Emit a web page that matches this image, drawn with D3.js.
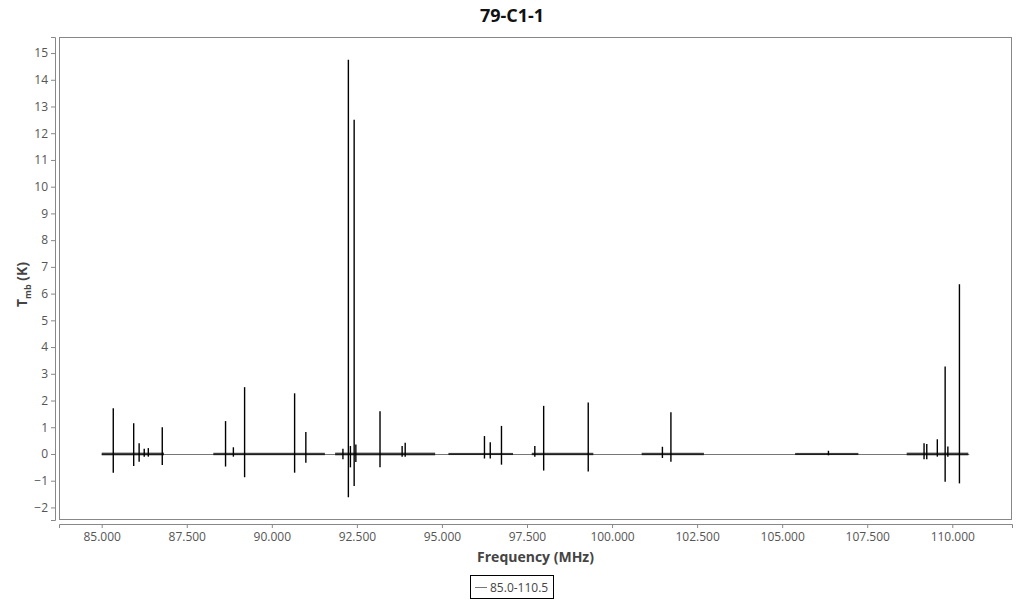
<!DOCTYPE html>
<html>
<head>
<meta charset="utf-8">
<script src="https://cdn.jsdelivr.net/npm/d3@7"></script>
<style>
  body { margin: 0; background: #fff; font-family: "Open Sans", sans-serif; }
</style>
</head>
<body>
<div id="chart"></div>
<script>
// observed frequency windows (MHz)
var segStart = [85.0, 88.28, 91.86, 95.19, 97.64, 100.87, 105.38, 108.66];
var segEnd   = [86.83, 91.56, 94.80, 97.09, 99.45, 102.70, 107.24, 110.47];
var segNoise = [0.05, 0.045, 0.05, 0.04, 0.045, 0.045, 0.04, 0.05];

// spectral lines: frequency, peak, trough (K)
var lineFreq = [85.34, 85.94, 86.10, 86.25, 86.37, 86.78, 88.64, 88.87, 89.20, 90.67,
                91.00, 92.09, 92.25, 92.31, 92.42, 92.47, 93.18, 93.83, 93.92, 96.25,
                96.42, 96.75, 97.73, 97.99, 99.30, 101.48, 101.73, 106.36, 109.17, 109.25,
                109.56, 109.79, 109.87, 110.21];
var lineMax  = [1.71, 1.15, 0.40, 0.20, 0.22, 1.00, 1.23, 0.25, 2.50, 2.27,
                0.82, 0.20, 14.75, 0.30, 12.50, 0.35, 1.60, 0.30, 0.42, 0.67,
                0.44, 1.05, 0.30, 1.80, 1.93, 0.27, 1.56, 0.12, 0.40, 0.37,
                0.55, 3.27, 0.28, 6.35];
var lineMin  = [-0.70, -0.45, -0.29, -0.10, -0.10, -0.41, -0.47, -0.10, -0.87, -0.70,
                -0.33, -0.20, -1.62, -0.50, -1.20, -0.30, -0.50, -0.10, -0.10, -0.17,
                -0.17, -0.40, -0.10, -0.62, -0.66, -0.15, -0.29, -0.05, -0.20, -0.20,
                -0.10, -1.04, -0.10, -1.10];

var xTicks = [85, 87.5, 90, 92.5, 95, 97.5, 100, 102.5, 105, 107.5, 110];
var yTicks = [-2, -1, 0, 1, 2, 3, 4, 5, 6, 7, 8, 9, 10, 11, 12, 13, 14, 15];

var width = 1024, height = 600;
var plot = { left: 59, right: 1012, top: 37, bottom: 520 };

var svg = d3.select("#chart").append("svg")
  .attr("width", width).attr("height", height);

var x = d3.scaleLinear().domain([83.745, 111.755]).range([plot.left, plot.right]);
var y = d3.scaleLinear().domain([-2.47, 15.6]).range([plot.bottom, plot.top]);

// title
svg.append("text")
  .attr("x", 512).attr("y", 22)
  .attr("text-anchor", "middle")
  .style("font-size", "18px").style("font-weight", "bold").style("fill", "#111")
  .text("79-C1-1");

// plot frame
svg.append("rect")
  .attr("x", plot.left + 0.5).attr("y", plot.top + 0.5)
  .attr("width", plot.right - plot.left - 1).attr("height", plot.bottom - plot.top - 1)
  .attr("fill", "none").attr("stroke", "#888");

svg.append("clipPath").attr("id", "clip").append("rect")
  .attr("x", plot.left).attr("y", plot.top)
  .attr("width", plot.right - plot.left).attr("height", plot.bottom - plot.top);

var g = svg.append("g").attr("clip-path", "url(#clip)");

// baseline of the series joining windows
g.append("line")
  .attr("x1", x(85.0)).attr("x2", x(110.5))
  .attr("y1", Math.round(y(0)) + 0.5).attr("y2", Math.round(y(0)) + 0.5)
  .attr("stroke", "#777").attr("stroke-width", 1);

// noise in each window
g.selectAll("rect.noise")
  .data(segStart.map(function(s, i) { return { s: s, e: segEnd[i], n: segNoise[i] }; }))
  .enter().append("rect")
  .attr("class", "noise")
  .attr("x", function(d) { return x(d.s); })
  .attr("width", function(d) { return x(d.e) - x(d.s); })
  .attr("y", function(d) { return y(d.n); })
  .attr("height", function(d) { return y(-d.n) - y(d.n); })
  .attr("fill", "#000").attr("opacity", 0.75);

// lines
g.selectAll("line.peak")
  .data(lineFreq.map(function(f, i) { return { f: f, hi: lineMax[i], lo: lineMin[i] }; }))
  .enter().append("line")
  .attr("class", "peak")
  .attr("x1", function(d) { return x(d.f); })
  .attr("x2", function(d) { return x(d.f); })
  .attr("y1", function(d) { return y(d.hi); })
  .attr("y2", function(d) { return y(d.lo); })
  .attr("stroke", "#000").attr("stroke-width", 1.4);

// y axis
var yAxis = svg.append("g")
  .attr("transform", "translate(" + (plot.left - 4) + ",0)")
  .call(d3.axisLeft(y).tickValues(yTicks).tickSize(4).tickPadding(3));

// x axis
var xAxis = svg.append("g")
  .attr("transform", "translate(0," + (plot.bottom + 4) + ")")
  .call(d3.axisBottom(x).tickValues(xTicks).tickSize(4).tickPadding(4).tickFormat(d3.format(".3f")));

[yAxis, xAxis].forEach(function(a) {
  a.select(".domain").attr("stroke", "#888");
  a.selectAll(".tick line").attr("stroke", "#888");
  a.selectAll(".tick text")
    .style("font-family", "'Open Sans', sans-serif")
    .style("font-size", "12px").style("fill", "#555");
});

// axis titles
svg.append("text")
  .attr("x", (plot.left + plot.right) / 2).attr("y", 562)
  .attr("text-anchor", "middle")
  .style("font-size", "14px").style("font-weight", "bold").style("fill", "#444")
  .text("Frequency (MHz)");

var yl = svg.append("text")
  .attr("transform", "translate(27," + ((plot.top + plot.bottom) / 2 + 6) + ") rotate(-90)")
  .attr("text-anchor", "middle")
  .style("font-size", "14px").style("font-weight", "bold").style("fill", "#444");
yl.append("tspan").text("T");
yl.append("tspan").attr("dy", 4).style("font-size", "9px").text("mb");
yl.append("tspan").attr("dy", -4).text(" (K)");

// legend
var lg = svg.append("g").attr("transform", "translate(470,575)");
lg.append("rect").attr("x", 0.5).attr("y", 0.5).attr("width", 83).attr("height", 23)
  .attr("fill", "#fff").attr("stroke", "#000");
lg.append("line").attr("x1", 5).attr("x2", 17).attr("y1", 12.5).attr("y2", 12.5)
  .attr("stroke", "#777");
lg.append("text").attr("x", 20).attr("y", 16.5)
  .style("font-size", "12px").style("fill", "#444")
  .text("85.0-110.5");
</script>
</body>
</html>
